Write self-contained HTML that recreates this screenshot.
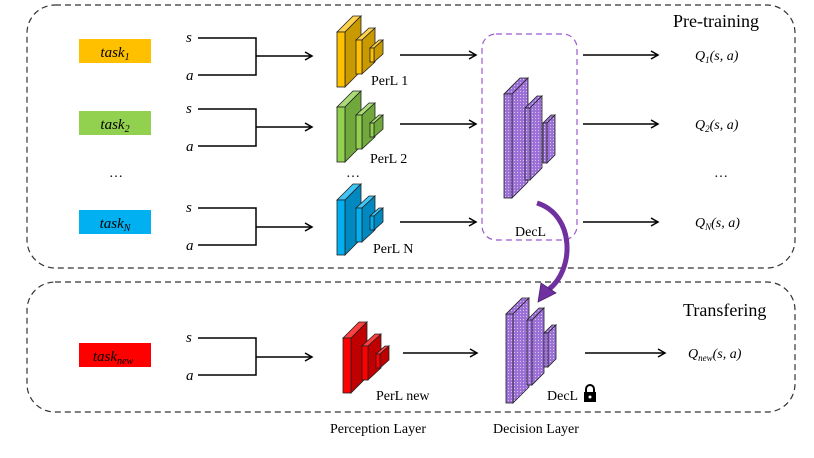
<!DOCTYPE html>
<html><head><meta charset="utf-8"><style>body{margin:0;background:#fff}svg{display:block}</style></head><body>
<svg width="814" height="458" viewBox="0 0 814 458" xmlns="http://www.w3.org/2000/svg" font-family="Liberation Serif, serif">
<defs>
<marker id="ar" markerWidth="10" markerHeight="10" refX="8" refY="5" orient="auto" markerUnits="userSpaceOnUse"><path d="M1,1 L8,5 L1,9" fill="none" stroke="#000" stroke-width="1.5"/></marker>
<pattern id="dots" width="3" height="3" patternUnits="userSpaceOnUse"><rect width="3" height="3" fill="#9b6fd6"/><circle cx="1.5" cy="1.5" r="0.6" fill="#d8c4f2"/></pattern>
</defs>
<rect x="27" y="5" width="768" height="263" rx="28" fill="none" stroke="#333" stroke-dasharray="6,4" stroke-width="1.2"/>
<rect x="27" y="282" width="768" height="130" rx="28" fill="none" stroke="#333" stroke-dasharray="6,4" stroke-width="1.2"/>
<rect x="482" y="34" width="95" height="206" rx="14" fill="none" stroke="#9b59d0" stroke-dasharray="6,4" stroke-width="1.2"/>
<text x="673" y="27" font-size="18">Pre-training</text>
<text x="683" y="316" font-size="18">Transfering</text>

<g font-style="italic" font-size="15" text-anchor="middle" font-family="Liberation Serif, serif">
<rect x="79" y="39" width="72" height="24" fill="#ffc000"/><text x="115" y="57">task<tspan font-size="10" dy="3">1</tspan></text>
<rect x="79" y="111" width="72" height="24" fill="#92d050"/><text x="115" y="129">task<tspan font-size="10" dy="3">2</tspan></text>
<rect x="79" y="210" width="72" height="24" fill="#00b0f0"/><text x="115" y="228">task<tspan font-size="10" dy="3">N</tspan></text>
<rect x="79" y="343" width="72" height="24" fill="#ff0000"/><text x="113" y="361">task<tspan font-size="10" dy="3">new</tspan></text>
</g>
<g font-size="14" fill="#000">
<text x="109" y="177">…</text><text x="346" y="177">…</text><text x="714" y="177">…</text>
</g>
<g font-style="italic" font-size="15">
<text x="186" y="42">s</text><text x="186" y="80">a</text>
<text x="186" y="113">s</text><text x="186" y="151">a</text>
<text x="186" y="212">s</text><text x="186" y="250">a</text>
<text x="186" y="342">s</text><text x="186" y="380">a</text>
</g>
<g stroke="#000" stroke-width="1.5" fill="none">
<path d="M198,38 H256 V75 H198 M256,56 H312" marker-end="url(#ar)"/>
<path d="M198,109 H256 V146 H198 M256,127 H312" marker-end="url(#ar)"/>
<path d="M198,208 H256 V245 H198 M256,227 H312" marker-end="url(#ar)"/>
<path d="M198,338 H256 V375 H198 M256,357 H312" marker-end="url(#ar)"/>
<path d="M400,55 H476" marker-end="url(#ar)"/>
<path d="M400,124 H476" marker-end="url(#ar)"/>
<path d="M400,222 H476" marker-end="url(#ar)"/>
<path d="M403,353 H477" marker-end="url(#ar)"/>
<path d="M583,55 H658" marker-end="url(#ar)"/>
<path d="M583,124 H658" marker-end="url(#ar)"/>
<path d="M583,222 H658" marker-end="url(#ar)"/>
<path d="M585,353 H665" marker-end="url(#ar)"/>
</g>
<g font-style="italic" font-size="14">
<text x="695" y="60">Q<tspan font-size="9" dy="3">1</tspan><tspan dy="-3">(s, a)</tspan></text>
<text x="695" y="129">Q<tspan font-size="9" dy="3">2</tspan><tspan dy="-3">(s, a)</tspan></text>
<text x="695" y="227">Q<tspan font-size="9" dy="3">N</tspan><tspan dy="-3">(s, a)</tspan></text>
<text x="688" y="358">Q<tspan font-size="9" dy="3">new</tspan><tspan dy="-3">(s, a)</tspan></text>
</g>

<g stroke="#222" stroke-width="0.8">
<!-- yellow -->
<g><polygon points="337,32 353,16 361,16 345,32" fill="#ffd24d"/><polygon points="345,32 361,16 361,71 345,87" fill="#c99a00"/><rect x="337" y="32" width="8" height="55" fill="#ffc000"/>
<polygon points="356,40 369,28 375,28 362,40" fill="#ffd24d"/><polygon points="362,40 375,28 375,62 362,74" fill="#c99a00"/><rect x="356" y="40" width="6" height="34" fill="#ffc000"/>
<polygon points="370,48 379,40 383,40 374,48" fill="#ffd24d"/><polygon points="374,48 383,40 383,54 374,62" fill="#c99a00"/><rect x="370" y="48" width="4" height="14" fill="#ffc000"/></g>
<!-- green -->
<g transform="translate(0,75)"><polygon points="337,32 353,16 361,16 345,32" fill="#a9db78"/><polygon points="345,32 361,16 361,71 345,87" fill="#70a83c"/><rect x="337" y="32" width="8" height="55" fill="#92d050"/>
<polygon points="356,40 369,28 375,28 362,40" fill="#a9db78"/><polygon points="362,40 375,28 375,62 362,74" fill="#70a83c"/><rect x="356" y="40" width="6" height="34" fill="#92d050"/>
<polygon points="370,48 379,40 383,40 374,48" fill="#a9db78"/><polygon points="374,48 383,40 383,54 374,62" fill="#70a83c"/><rect x="370" y="48" width="4" height="14" fill="#92d050"/></g>
<!-- blue -->
<g transform="translate(0,168)"><polygon points="337,32 353,16 361,16 345,32" fill="#3fc4f4"/><polygon points="345,32 361,16 361,71 345,87" fill="#0088c0"/><rect x="337" y="32" width="8" height="55" fill="#00b0f0"/>
<polygon points="356,40 369,28 375,28 362,40" fill="#3fc4f4"/><polygon points="362,40 375,28 375,62 362,74" fill="#0088c0"/><rect x="356" y="40" width="6" height="34" fill="#00b0f0"/>
<polygon points="370,48 379,40 383,40 374,48" fill="#3fc4f4"/><polygon points="374,48 383,40 383,54 374,62" fill="#0088c0"/><rect x="370" y="48" width="4" height="14" fill="#00b0f0"/></g>
<!-- red -->
<g transform="translate(6,306)"><polygon points="337,32 353,16 361,16 345,32" fill="#ff4040"/><polygon points="345,32 361,16 361,71 345,87" fill="#c00000"/><rect x="337" y="32" width="8" height="55" fill="#ff0000"/>
<polygon points="356,40 369,28 375,28 362,40" fill="#ff4040"/><polygon points="362,40 375,28 375,62 362,74" fill="#c00000"/><rect x="356" y="40" width="6" height="34" fill="#ff0000"/>
<polygon points="370,48 379,40 383,40 374,48" fill="#ff4040"/><polygon points="374,48 383,40 383,54 374,62" fill="#c00000"/><rect x="370" y="48" width="4" height="14" fill="#ff0000"/></g>
<!-- purple top -->
<g><polygon points="504,94 520,78 528,78 512,94" fill="url(#dots)"/><polygon points="512,94 528,78 528,182 512,198" fill="url(#dots)"/><rect x="504" y="94" width="8" height="104" fill="url(#dots)"/>
<polygon points="525,108 537,96 542,96 530,108" fill="url(#dots)"/><polygon points="530,108 542,96 542,168 530,180" fill="url(#dots)"/><rect x="525" y="108" width="5" height="72" fill="url(#dots)"/>
<polygon points="543,123 551,115 555,115 547,123" fill="url(#dots)"/><polygon points="547,123 555,115 555,155 547,163" fill="url(#dots)"/><rect x="543" y="123" width="4" height="40" fill="url(#dots)"/></g>
<!-- purple bottom -->
<g><polygon points="506,314 522,298 529,298 513,314" fill="url(#dots)"/><polygon points="513,314 529,298 529,387 513,403" fill="url(#dots)"/><rect x="506" y="314" width="7" height="89" fill="url(#dots)"/>
<polygon points="527,320 539,308 544,308 532,320" fill="url(#dots)"/><polygon points="532,320 544,308 544,373 532,385" fill="url(#dots)"/><rect x="527" y="320" width="5" height="65" fill="url(#dots)"/>
<polygon points="544,333 552,325 556,325 548,333" fill="url(#dots)"/><polygon points="548,333 556,325 556,359 548,367" fill="url(#dots)"/><rect x="544" y="333" width="4" height="34" fill="url(#dots)"/></g>
</g>
<!-- curved arrow -->
<path d="M537,203 C575,215 575,270 548,290" fill="none" stroke="#7030a0" stroke-width="5"/>
<polygon points="538,302 541,283 556,293" fill="#7030a0" stroke="#4a1f70" stroke-width="0.8"/>

<g font-size="14">
<text x="371" y="85">PerL 1</text>
<text x="370" y="163">PerL 2</text>
<text x="373" y="253">PerL N</text>
<text x="515" y="236">DecL</text>
<text x="376" y="400">PerL new</text>
<text x="547" y="400">DecL</text>
<text x="330" y="433">Perception Layer</text>
<text x="493" y="433">Decision Layer</text>
</g>
<!-- lock -->
<path d="M586,393 v-4 a4,4 0 0 1 8,0 v4" fill="none" stroke="#000" stroke-width="2"/>
<rect x="584" y="392" width="12" height="10" fill="#000"/><circle cx="590" cy="397" r="1.5" fill="#fff"/>
</svg>
</body></html>
